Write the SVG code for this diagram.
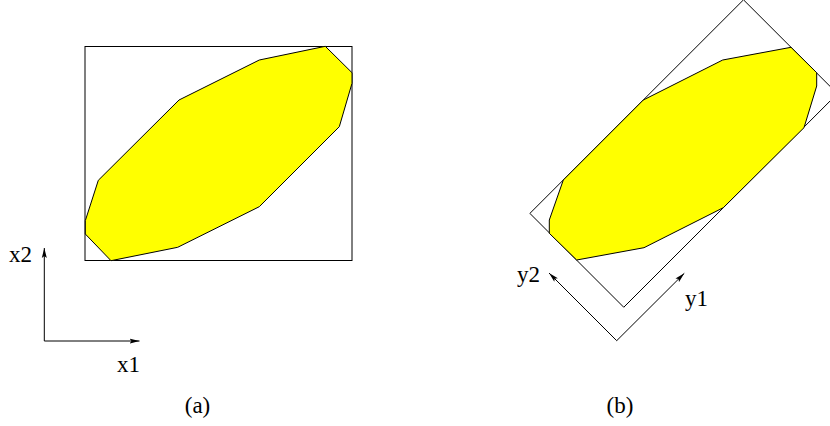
<svg xmlns="http://www.w3.org/2000/svg" width="830" height="426" viewBox="0 0 830 426">
  <style>
    .frame { fill: none; stroke: #000; stroke-width: 1; }
    .region { fill: #ffff00; stroke: #000; stroke-width: 1; stroke-linejoin: round; }
    .axis { fill: none; stroke: #000; stroke-width: 1; }
    .lbl { font-family: "Liberation Serif", "Times New Roman", serif; font-size: 23px; fill: #000; }
  </style>
  <defs>
    <marker id="arr" viewBox="0 0 10 6" refX="10" refY="3" markerWidth="10" markerHeight="6" markerUnits="userSpaceOnUse" orient="auto">
      <path d="M0,0.5 L10,3 L0,5.5 L2,3 Z" fill="#000"/>
    </marker>
  </defs>
  <rect width="830" height="426" fill="#fff"/>

  <g id="panel-a">
    <g id="box-a">
      <rect class="frame" x="85" y="46.5" width="267" height="214"/>
    </g>
    <g id="region-a">
      <polygon class="region" points="325.3,46.3 352,72.7 352,83.3 339.3,126.7 259.3,206.7 177.7,247.3 111,260.7 85.3,234 85.3,220.7 98.3,180.3 179,100 259.3,60"/>
    </g>
    <text class="lbl" x="9" y="262">x2</text>
    <text class="lbl" x="117" y="372">x1</text>
    <text class="lbl" x="197.5" y="413" text-anchor="middle">(a)</text>
  </g>

  <g id="panel-b">
    <g id="box-b">
      <polygon class="frame" points="529.9,213.4 743.5,-0.2 837.4,93.7 623.75,307.25"/>
    </g>
    <g id="region-b">
      <polygon class="region" points="791,47.3 816.7,72.7 816.7,86 804,127.7 723.3,207.7 644,247.7 576.7,260 549.3,233.3 549.3,220 563.3,180 643.3,100 722.7,60"/>
    </g>
    <text class="lbl" x="517" y="282">y2</text>
    <text class="lbl" x="685" y="306">y1</text>
    <text class="lbl" x="620" y="413" text-anchor="middle">(b)</text>
  </g>

  <g id="connectors">
    <line class="axis" x1="44.3" y1="341" x2="44.3" y2="248" marker-end="url(#arr)"/>
    <line class="axis" x1="44.3" y1="341" x2="139.5" y2="341" marker-end="url(#arr)"/>
    <line class="axis" x1="616.7" y1="340.7" x2="549" y2="273" marker-end="url(#arr)"/>
    <line class="axis" x1="616.7" y1="340.7" x2="684.3" y2="273.3" marker-end="url(#arr)"/>
  </g>
</svg>
